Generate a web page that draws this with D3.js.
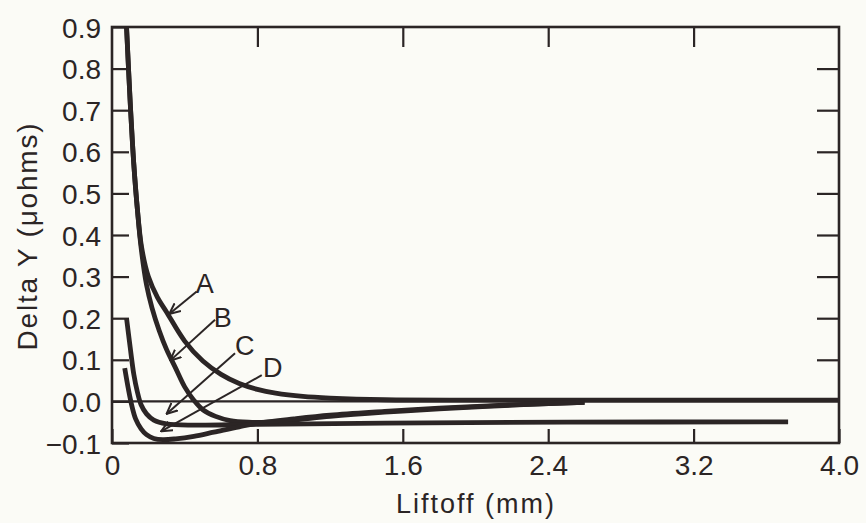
<!DOCTYPE html>
<html>
<head>
<meta charset="utf-8">
<script src="https://cdn.jsdelivr.net/npm/d3@7"></script>
<style>
  body { margin: 0; background: #fbfbf6; }
  svg { display: block; }
</style>
</head>
<body>
<svg id="chart"></svg>
<script>
// courbes : [liftoff mm, delta Y µohms]
const courbeA = [[0.08,0.9],[0.10,0.72],[0.12,0.57],[0.14,0.46],[0.163,0.37],[0.2,0.30],[0.25,0.25],[0.3,0.215],[0.4,0.145],[0.5,0.097],[0.6,0.065],[0.7,0.043],[0.8,0.029],[0.9,0.02],[1.05,0.012],[1.2,0.008],[1.5,0.004],[2.0,0.003],[3.0,0.003],[4.0,0.003]];
const courbeB = [[0.08,0.9],[0.10,0.72],[0.12,0.57],[0.14,0.46],[0.16,0.37],[0.19,0.28],[0.22,0.225],[0.26,0.17],[0.3,0.125],[0.35,0.08],[0.4,0.035],[0.45,0.003],[0.5,-0.02],[0.57,-0.036],[0.65,-0.046],[0.75,-0.05],[0.85,-0.05],[1.0,-0.045],[1.2,-0.036],[1.5,-0.026],[1.8,-0.018],[2.2,-0.009],[2.6,-0.002]];
const courbeC = [[0.08,0.2],[0.10,0.13],[0.12,0.065],[0.14,0.022],[0.16,-0.008],[0.19,-0.03],[0.23,-0.045],[0.3,-0.054],[0.45,-0.057],[0.8,-0.055],[1.5,-0.052],[2.5,-0.05],[3.72,-0.049]];
const courbeD = [[0.07,0.08],[0.09,0.03],[0.11,-0.012],[0.13,-0.042],[0.16,-0.066],[0.19,-0.08],[0.23,-0.089],[0.28,-0.092],[0.35,-0.09],[0.45,-0.084],[0.56,-0.074],[0.7,-0.061],[0.81,-0.052],[1.0,-0.042],[1.2,-0.033],[1.5,-0.024],[1.8,-0.016],[2.1,-0.01],[2.4,-0.005],[2.6,-0.002]];

const nomsCourbes = ["A", "B", "C", "D"];
// position des lettres et des flèches (coordonnées données)
const lettresX = [0.51, 0.61, 0.73, 0.884];
const lettresY = [0.285, 0.203, 0.136, 0.083];
const flecheDebut = [[0.466,0.264],[0.567,0.196],[0.677,0.116],[0.824,0.063]];
const flecheFin = [[0.315,0.21],[0.32,0.098],[0.30,-0.03],[0.27,-0.072]];

const xTicks = [0, 0.8, 1.6, 2.4, 3.2, 4.0];
const xLabels = ["0", "0.8", "1.6", "2.4", "3.2", "4.0"];
const yTicks = [-0.1, 0, 0.1, 0.2, 0.3, 0.4, 0.5, 0.6, 0.7, 0.8, 0.9];
const yLabels = ["\u22120.1", "0.0", "0.1", "0.2", "0.3", "0.4", "0.5", "0.6", "0.7", "0.8", "0.9"];

const width = 866;
const height = 523;
const encre = "#2b2525";
const police = "'Liberation Sans', Arial, sans-serif";

const svg = d3.select("#chart")
  .attr("width", width)
  .attr("height", height);

const x = d3.scaleLinear().domain([0, 4]).range([112, 839]);
const y = d3.scaleLinear().domain([-0.1, 0.9]).range([443, 27]);

// Axes (ticks vers l'intérieur)
const gLeft = svg.append("g")
  .attr("transform", `translate(${x(0)},0)`)
  .call(d3.axisLeft(y).tickValues(yTicks).tickSize(-17).tickSizeOuter(0).tickPadding(11)
    .tickFormat((d, i) => yLabels[i]));

const gBottom = svg.append("g")
  .attr("transform", `translate(0,${y(-0.1)})`)
  .call(d3.axisBottom(x).tickValues(xTicks).tickSize(-14).tickSizeOuter(0).tickPadding(10)
    .tickFormat((d, i) => xLabels[i]));

const gTop = svg.append("g")
  .attr("transform", `translate(0,${y(0.9)})`)
  .call(d3.axisTop(x).tickValues(xTicks.slice(1, -1)).tickSize(-20).tickSizeOuter(0).tickFormat(""));

const gRight = svg.append("g")
  .attr("transform", `translate(${x(4)},0)`)
  .call(d3.axisRight(y).tickValues(yTicks.slice(2, -1)).tickSize(-22).tickSizeOuter(0).tickFormat(""));

[gLeft, gBottom, gTop, gRight].forEach(g => {
  g.select(".domain").remove();
  g.selectAll(".tick line").attr("stroke", encre).attr("stroke-width", 2.2);
  g.selectAll("text")
    .attr("fill", encre)
    .style("font-family", police)
    .style("font-size", "28px");
});
gLeft.selectAll("text").attr("dy", "0.36em");
gBottom.selectAll("text").attr("dy", "0.8em");

// ligne zéro
svg.append("line")
  .attr("x1", x(0)).attr("x2", x(4))
  .attr("y1", y(0)).attr("y2", y(0))
  .attr("stroke", encre)
  .attr("stroke-width", 2.2);

// cadre
svg.append("rect")
  .attr("x", x(0))
  .attr("y", y(0.9))
  .attr("width", x(4) - x(0))
  .attr("height", y(-0.1) - y(0.9))
  .attr("fill", "none")
  .attr("stroke", encre)
  .attr("stroke-width", 2.6);

// courbes
const line = d3.line()
  .x(d => x(d[0]))
  .y(d => y(d[1]))
  .curve(d3.curveCatmullRom.alpha(0.5));

[courbeA, courbeB, courbeC, courbeD].forEach(c => {
  svg.append("path")
    .attr("d", line(c))
    .attr("fill", "none")
    .attr("stroke", encre)
    .attr("stroke-width", 4.8)
    .attr("stroke-linecap", "butt")
    .attr("stroke-linejoin", "round");
});

// flèches
svg.append("defs").append("marker")
  .attr("id", "pointe")
  .attr("viewBox", "0 -6 12 12")
  .attr("refX", 11)
  .attr("refY", 0)
  .attr("markerWidth", 12)
  .attr("markerHeight", 12)
  .attr("markerUnits", "userSpaceOnUse")
  .attr("orient", "auto")
  .append("path")
  .attr("d", "M0,-5L11,0L0,5")
  .attr("fill", "none")
  .attr("stroke", encre)
  .attr("stroke-width", 2);

nomsCourbes.forEach((nom, i) => {
  svg.append("line")
    .attr("x1", x(flecheDebut[i][0]))
    .attr("y1", y(flecheDebut[i][1]))
    .attr("x2", x(flecheFin[i][0]))
    .attr("y2", y(flecheFin[i][1]))
    .attr("stroke", encre)
    .attr("stroke-width", 2)
    .attr("marker-end", "url(#pointe)");

  svg.append("text")
    .text(nom)
    .attr("x", x(lettresX[i]))
    .attr("y", y(lettresY[i]))
    .attr("text-anchor", "middle")
    .attr("dy", "0.36em")
    .attr("fill", encre)
    .style("font-family", police)
    .style("font-size", "27px");
});

// titres d'axes
svg.append("text")
  .text("Liftoff (mm)")
  .attr("x", 476)
  .attr("y", 513)
  .attr("text-anchor", "middle")
  .attr("fill", encre)
  .style("font-family", police)
  .style("font-size", "27px")
  .style("letter-spacing", "2px");

svg.append("text")
  .text("Delta Y (\u03bcohms)")
  .attr("transform", "translate(37,236) rotate(-90)")
  .attr("text-anchor", "middle")
  .attr("fill", encre)
  .style("font-family", police)
  .style("font-size", "28px")
  .style("letter-spacing", "1.8px");
</script>
</body>
</html>
